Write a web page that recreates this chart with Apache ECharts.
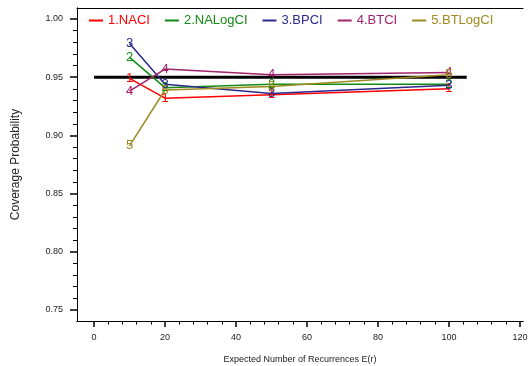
<!DOCTYPE html>
<html>
<head>
<meta charset="utf-8">
<script src="https://cdn.jsdelivr.net/npm/echarts@6/dist/echarts.min.js"></script>
<style>
html,body{margin:0;padding:0;background:#fff;}
#chart{width:532px;height:366px;}
</style>
</head>
<body>
<div id="chart"></div>
<script>
// ---- data ----
var expectedR = [10, 20, 50, 100];
var seriesNames = ['1.NACI', '2.NALogCI', '3.BPCI', '4.BTCI', '5.BTLogCI'];
var seriesLabels = ['1', '2', '3', '4', '5'];
var naci     = [0.949, 0.932, 0.935, 0.940];
var naLogCI  = [0.967, 0.941, 0.944, 0.944];
var bpci     = [0.979, 0.944, 0.936, 0.943];
var btci     = [0.938, 0.957, 0.952, 0.954];
var btLogCI  = [0.891, 0.939, 0.942, 0.952];
var nominalX = [0, 105];
var nominalY = [0.95, 0.95];
var xMajorTicks = [0, 20, 40, 60, 80, 100, 120];
var xMinorTicks = [4, 8, 12, 16, 24, 28, 32, 36, 44, 48, 52, 56, 64, 68, 72, 76, 84, 88, 92, 96, 104, 108, 112, 116];
var yMajorTicks = [0.75, 0.80, 0.85, 0.90, 0.95, 1.00];
var yMinorTicks = [0.76, 0.77, 0.78, 0.79, 0.81, 0.82, 0.83, 0.84, 0.86, 0.87, 0.88, 0.89, 0.91, 0.92, 0.93, 0.94, 0.96, 0.97, 0.98, 0.99];
var colors = ['#ff0000', '#138a13', '#2a2a8c', '#a2226c', '#9e8a1e'];

var allValues = [naci, naLogCI, bpci, btci, btLogCI];
var FONT = 'Liberation Sans, Arial, sans-serif';

var chart = echarts.init(document.getElementById('chart'), null, {renderer: 'canvas'});

function pairs(xs, ys) { return xs.map(function (x, i) { return [x, ys[i]]; }); }

var series = [{
  name: 'nominal',
  type: 'line',
  xAxisIndex: 0, yAxisIndex: 0,
  data: pairs(nominalX, nominalY),
  symbol: 'none',
  lineStyle: {color: '#000', width: 3},
  itemStyle: {color: '#000'},
  silent: true,
  z: 1
}];
allValues.forEach(function (vals, i) {
  series.push({
    name: seriesNames[i],
    type: 'line',
    xAxisIndex: 0, yAxisIndex: 0,
    data: pairs(expectedR, vals),
    symbol: 'circle',
    symbolSize: 0,
    showSymbol: true,
    itemStyle: {color: colors[i]},
    lineStyle: {color: colors[i], width: 1.5},
    label: {
      show: true,
      position: 'inside',
      formatter: seriesLabels[i],
      color: colors[i],
      fontSize: 13,
      fontFamily: FONT
    },
    labelLayout: {hideOverlap: false},
    emphasis: {disabled: true},
    animation: false,
    z: 3
  });
});

var XMIN = -4.79, XMAX = 120.85, YMIN = 0.74055, YMAX = 1.00945;

function blank() { return ''; }

chart.setOption({
  animation: false,
  backgroundColor: '#fff',
  textStyle: {fontFamily: FONT},
  grid: {left: 77, top: 8, width: 446, height: 313, containLabel: false, outerBoundsMode: 'none'},
  legend: {
    data: seriesNames.map(function (n, i) { return {name: n, itemStyle: {color: colors[i], opacity: 1}, textStyle: {color: colors[i]}}; }),
    left: 84, top: 9,
    icon: 'rect',
    itemWidth: 14, itemHeight: 2,
    itemGap: 15,
    itemStyle: {opacity: 1},
    textStyle: {fontSize: 13, fontFamily: FONT},
    selectedMode: false
  },
  xAxis: [{
    type: 'value', min: XMIN, max: XMAX, position: 'bottom',
    axisLine: {show: true, onZero: false, lineStyle: {color: '#000', width: 1}},
    axisTick: {show: true, customValues: xMajorTicks, length: 6, lineStyle: {color: '#000', width: 1.5}},
    axisLabel: {show: true, customValues: xMajorTicks, fontSize: 9, color: '#222', margin: 12, fontFamily: FONT},
    splitLine: {show: false},
    name: 'Expected Number of Recurrences E(r)',
    nameLocation: 'middle', nameGap: 34,
    nameTextStyle: {fontSize: 9, color: '#222', fontFamily: FONT}
  }, {
    type: 'value', min: XMIN, max: XMAX, position: 'bottom',
    axisLine: {show: true, onZero: false, lineStyle: {color: '#000', width: 1}},
    axisTick: {show: true, customValues: xMinorTicks, length: 3.5, lineStyle: {color: '#000', width: 1}},
    axisLabel: {show: true, customValues: xMinorTicks, formatter: blank},
    splitLine: {show: false}
  }, {
    type: 'value', min: XMIN, max: XMAX, position: 'top',
    axisLine: {show: true, onZero: false, lineStyle: {color: '#000', width: 1}},
    axisTick: {show: false},
    axisLabel: {show: false},
    splitLine: {show: false}
  }],
  yAxis: [{
    type: 'value', min: YMIN, max: YMAX, position: 'left',
    axisLine: {show: true, onZero: false, lineStyle: {color: '#000', width: 1}},
    axisTick: {show: true, customValues: yMajorTicks, length: 7, lineStyle: {color: '#000', width: 1.5}},
    axisLabel: {show: true, customValues: yMajorTicks, fontSize: 9, color: '#222', margin: 14, fontFamily: FONT,
      formatter: function (v) { return v.toFixed(2); }},
    splitLine: {show: false},
    name: 'Coverage Probability',
    nameLocation: 'middle', nameGap: 55, nameRotate: 90,
    nameTextStyle: {fontSize: 12, color: '#222', fontFamily: FONT}
  }, {
    type: 'value', min: YMIN, max: YMAX, position: 'left',
    axisLine: {show: true, onZero: false, lineStyle: {color: '#000', width: 1}},
    axisTick: {show: true, customValues: yMinorTicks, length: 4, lineStyle: {color: '#000', width: 1}},
    axisLabel: {show: true, customValues: yMinorTicks, formatter: blank},
    splitLine: {show: false}
  }],
  series: series
});
</script>
</body>
</html>
